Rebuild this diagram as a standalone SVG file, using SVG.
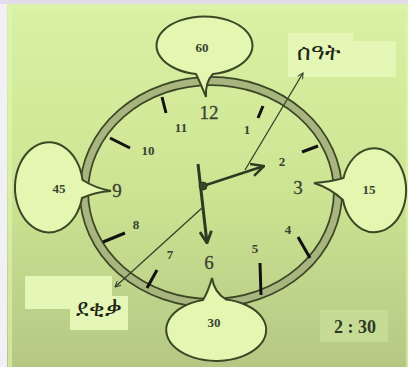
<svg xmlns="http://www.w3.org/2000/svg" width="408" height="367" viewBox="0 0 408 367">
<defs>
<linearGradient id="bg" x1="0" y1="0" x2="0" y2="1">
<stop offset="0" stop-color="#d9f1a3"/>
<stop offset="0.5" stop-color="#cde593"/>
<stop offset="1" stop-color="#b4c884"/>
</linearGradient>
<marker id="open" viewBox="0 0 10 10" refX="9" refY="5" markerWidth="7" markerHeight="7" orient="auto" markerUnits="userSpaceOnUse">
<path d="M1,1 L9,5 L1,9" fill="none" stroke="#33422a" stroke-width="1.5"/>
</marker>
<marker id="hourhead" viewBox="0 0 12 12" refX="11" refY="6" markerWidth="15" markerHeight="15" orient="auto" markerUnits="userSpaceOnUse">
<path d="M1,1 L11,6 L1,11" fill="none" stroke="#2e3a22" stroke-width="2"/>
</marker>
<marker id="minhead" viewBox="0 0 12 12" refX="11" refY="6" markerWidth="14" markerHeight="14" orient="auto" markerUnits="userSpaceOnUse">
<path d="M1,1 L11,6 L1,11" fill="none" stroke="#2e3a22" stroke-width="2.4"/>
</marker>
</defs>
<style>
.bubble{fill:#e3f7b0;stroke:#3a4826;stroke-width:2}
.blab{font-family:"Liberation Serif",serif;font-weight:bold;font-size:13px;fill:#3a4230;text-anchor:middle}
.big{font-family:"Liberation Serif",serif;font-size:19px;fill:#3a4230;text-anchor:middle;stroke:#3a4230;stroke-width:0.3}
.small{font-family:"Liberation Serif",serif;font-weight:bold;font-size:13px;fill:#3a4230;text-anchor:middle}
.tick{stroke:#111;stroke-width:3;stroke-linecap:butt}
.am{font-family:"Noto Sans","DejaVu Sans",sans-serif;font-size:23px;fill:#1e2418}
.pointer{stroke:#33422a;stroke-width:1.3;fill:none}
.lbox{fill:#e4f7b6}
</style>
<rect x="0" y="0" width="408" height="367" fill="#f2f0f5"/>
<rect x="0" y="0" width="408" height="4" fill="#e3dcea"/>
<rect x="7" y="4" width="401" height="363" fill="url(#bg)"/>
<rect x="10" y="7" width="398" height="363" fill="none" stroke="#e0f6b4" stroke-width="4" opacity="0.6"/>

<g id="label-boxes">
<rect class="lbox" x="288" y="33" width="65" height="44"/>
<rect class="lbox" x="312" y="41" width="84" height="36"/>
<rect class="lbox" x="25" y="276" width="87" height="33"/>
<rect class="lbox" x="70" y="296" width="58" height="34"/>
<rect x="320" y="310" width="68" height="32" fill="#c6dc95"/>
</g>

<g id="clock">
<ellipse cx="211" cy="192" rx="127" ry="111" fill="none" stroke="#3a4826" stroke-width="10"/>
<ellipse cx="211" cy="192" rx="127" ry="111" fill="none" stroke="#a9b57f" stroke-width="6.5"/>
<g id="ticks">
<line class="tick" x1="162" y1="97" x2="166" y2="113"/>
<line class="tick" x1="263" y1="106" x2="258" y2="118"/>
<line class="tick" x1="110" y1="138" x2="130" y2="148"/>
<line class="tick" x1="318" y1="146" x2="302" y2="152"/>
<line class="tick" x1="103" y1="242" x2="125" y2="233"/>
<line class="tick" x1="298" y1="237" x2="310" y2="258"/>
<line class="tick" x1="147" y1="288" x2="157" y2="270"/>
<line class="tick" x1="260" y1="263" x2="261" y2="295"/>
</g>
<g id="numbers">
<text class="big" x="209" y="119">12</text>
<text class="small" x="181" y="132">11</text>
<text class="small" x="247" y="134">1</text>
<text class="small" x="148" y="155">10</text>
<text class="small" x="282" y="166">2</text>
<text class="big" x="117" y="197">9</text>
<text class="big" x="298" y="194">3</text>
<text class="small" x="136" y="229">8</text>
<text class="small" x="288" y="234">4</text>
<text class="small" x="170" y="259">7</text>
<text class="small" x="255" y="253">5</text>
<text class="big" x="209" y="269">6</text>
</g>
</g>

<g id="bubble-60">
<path class="bubble" d="M196,74 A48,29 0 1 1 213,74 Q205,82 206,97 Q200,82 196,74 Z"/>
<text class="blab" x="202" y="52">60</text>
</g>
<g id="bubble-15">
<path class="bubble" d="M343.5,178 A32,42 0 1 1 343,200 Q330,188 314,183 Q330,182 343.5,178 Z"/>
<text class="blab" x="369" y="194">15</text>
</g>
<g id="bubble-45">
<path class="bubble" d="M82,198 A34,45 0 1 1 82.5,180 Q95,188 111,191 Q95,192 82,198 Z"/>
<text class="blab" x="59" y="193">45</text>
</g>
<g id="bubble-30">
<path class="bubble" d="M203,300 A50,31 0 1 0 226,299.5 Q214,292 212,278 Q208,292 203,300 Z"/>
<text class="blab" x="214" y="327">30</text>
</g>

<g id="connectors">
<line x1="198" y1="164" x2="207" y2="243" stroke="#2e3a22" stroke-width="3" marker-end="url(#minhead)"/>
<line x1="203" y1="186" x2="264" y2="166" stroke="#2e3a22" stroke-width="2.6" marker-end="url(#hourhead)"/>
<circle cx="203" cy="186" r="4" fill="#3a4628" stroke="#2e3a22" stroke-width="1"/>
<line class="pointer" x1="245" y1="170" x2="303" y2="73" marker-end="url(#open)"/>
<line class="pointer" x1="202" y1="208" x2="115" y2="287" marker-end="url(#open)"/>
</g>

<g id="labels">
<text class="am" x="297" y="60">ሰዓት</text>
<text class="am" x="76" y="316">ደቂቃ</text>
<text x="355" y="333" font-family="Liberation Serif, serif" font-weight="bold" font-size="18" fill="#2f3826" text-anchor="middle">2 : 30</text>
</g>
</svg>
